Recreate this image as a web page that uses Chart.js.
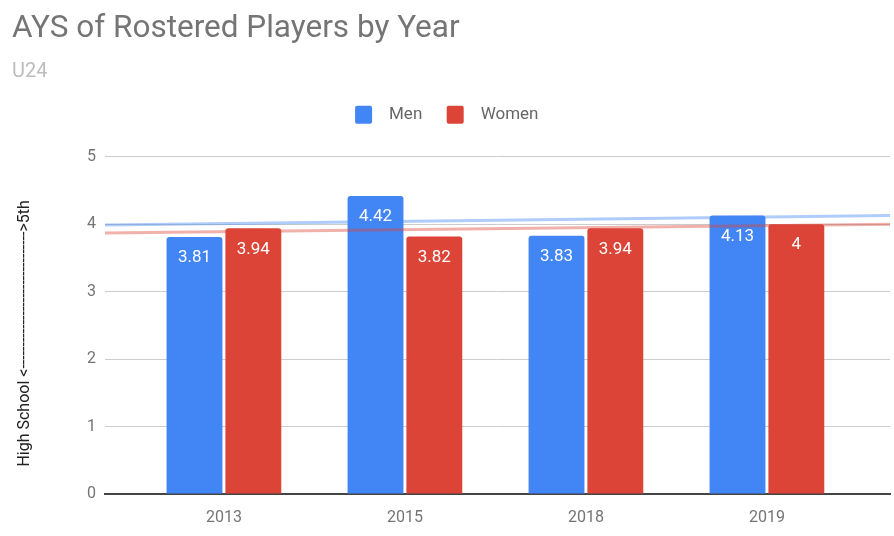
<!DOCTYPE html>
<html lang="en">
<head>
    <meta charset="UTF-8">
    <title>AYS of Rostered Players by Year</title>
    <script src="https://cdn.jsdelivr.net/npm/chart.js"></script>
    <style>
        html, body { margin: 0; padding: 0; background: #fff; }
        #wrap { width: 894px; height: 536px; }
    </style>
</head>
<body>
    <div id="wrap"><canvas id="aysChart" width="894" height="536"></canvas></div>
    <script>
        const years = ['2013', '2015', '2018', '2019'];
        const menValues = [3.81, 4.42, 3.83, 4.13];
        const womenValues = [3.94, 3.82, 3.94, 4];
        // trend line ends (x in category index units)
        const trendX = [-0.657, 3.68];
        const menTrend = [3.99, 4.13];
        const womenTrend = [3.87, 4.00];
        const yTicks = [0, 1, 2, 3, 4, 5];

        const blue = '#4285f4';
        const red = '#db4437';

        // value labels inside the top of each bar
        const barLabels = {
            id: 'barLabels',
            afterDatasetsDraw(chart) {
                const ctx = chart.ctx;
                ctx.save();
                ctx.fillStyle = '#ffffff';
                ctx.font = '17px Roboto';
                ctx.textAlign = 'center';
                ctx.textBaseline = 'middle';
                chart.data.datasets.forEach((ds, i) => {
                    if (ds.type !== 'bar') return;
                    chart.getDatasetMeta(i).data.forEach((bar, j) => {
                        ctx.fillText(String(ds.data[j].y), bar.x, bar.y + 21);
                    });
                });
                ctx.restore();
            }
        };

        // extra room under the legend
        const legendGap = {
            id: 'legendGap',
            beforeInit(chart) {
                const fit = chart.legend.fit;
                chart.legend.fit = function () {
                    fit.bind(chart.legend)();
                    this.height += 23;
                };
            }
        };

        const ctx = document.getElementById('aysChart').getContext('2d');
        new Chart(ctx, {
            type: 'bar',
            data: {
                datasets: [
                    {
                        type: 'line',
                        label: 'Men trend',
                        data: trendX.map((x, i) => ({ x: x, y: menTrend[i] })),
                        borderColor: 'rgba(66, 133, 244, 0.42)',
                        borderWidth: 3,
                        pointRadius: 0,
                        order: 0
                    },
                    {
                        type: 'line',
                        label: 'Women trend',
                        data: trendX.map((x, i) => ({ x: x, y: womenTrend[i] })),
                        borderColor: 'rgba(219, 68, 55, 0.42)',
                        borderWidth: 3,
                        pointRadius: 0,
                        order: 0
                    },
                    {
                        type: 'bar',
                        label: 'Men',
                        data: menValues.map((v, i) => ({ x: i, y: v })),
                        backgroundColor: blue,
                        borderRadius: 3,
                        categoryPercentage: 0.65,
                        barPercentage: 0.95,
                        order: 1
                    },
                    {
                        type: 'bar',
                        label: 'Women',
                        data: womenValues.map((v, i) => ({ x: i, y: v })),
                        backgroundColor: red,
                        borderRadius: 3,
                        categoryPercentage: 0.65,
                        barPercentage: 0.95,
                        order: 1
                    }
                ]
            },
            options: {
                responsive: false,
                animation: false,
                layout: { padding: { left: 12, right: 4, top: 0, bottom: 3 } },
                scales: {
                    x: {
                        type: 'linear',
                        min: trendX[0],
                        max: trendX[1],
                        offset: false,
                        afterBuildTicks(axis) {
                            axis.ticks = years.map((y, i) => ({ value: i }));
                        },
                        afterFit(axis) { axis.height = 39; },
                        ticks: {
                            callback: (v) => years[v],
                            color: '#757575',
                            font: { family: 'Roboto', size: 16 },
                            padding: 14,
                            maxRotation: 0
                        },
                        grid: { display: false, drawTicks: false, offset: false },
                        border: { display: true, color: '#444444', width: 2 }
                    },
                    y: {
                        min: 0,
                        max: 5,
                        afterBuildTicks(axis) {
                            axis.ticks = yTicks.map(v => ({ value: v }));
                        },
                        afterFit(axis) { axis.width = 93; },
                        ticks: {
                            color: '#757575',
                            font: { family: 'Roboto', size: 16 },
                            padding: 9
                        },
                        grid: {
                            color: (c) => c.tick && c.tick.value === 0 ? 'rgba(0,0,0,0)' : '#cccccc',
                            drawTicks: false
                        },
                        border: { display: false },
                        title: {
                            display: true,
                            text: 'High School <------------------------------->5th    ',
                            color: '#222222',
                            font: { family: 'Roboto', size: 16 },
                            padding: { top: 3, bottom: 0 }
                        }
                    }
                },
                plugins: {
                    title: {
                        display: true,
                        text: 'AYS of Rostered Players by Year',
                        align: 'start',
                        color: '#757575',
                        font: { family: 'Roboto', size: 31.5, weight: 'normal' },
                        padding: { top: 10, bottom: 4 }
                    },
                    subtitle: {
                        display: true,
                        text: 'U24',
                        align: 'start',
                        color: '#bdbdbd',
                        font: { family: 'Roboto', size: 20 },
                        padding: { top: 8, bottom: 6 }
                    },
                    legend: {
                        position: 'top',
                        labels: {
                            filter: (item) => item.text.indexOf('trend') < 0,
                            generateLabels(chart) {
                                const items = Chart.defaults.plugins.legend.labels.generateLabels(chart);
                                items.forEach(it => { it.text = '  ' + it.text + '  '; });
                                return items;
                            },
                            color: '#666666',
                            font: { family: 'Roboto', size: 17 },
                            boxWidth: 17,
                            boxHeight: 18,
                            padding: 16,
                            useBorderRadius: true,
                            borderRadius: 2
                        }
                    },
                    tooltip: { enabled: false }
                }
            },
            plugins: [barLabels, legendGap]
        });
    </script>
</body>
</html>
